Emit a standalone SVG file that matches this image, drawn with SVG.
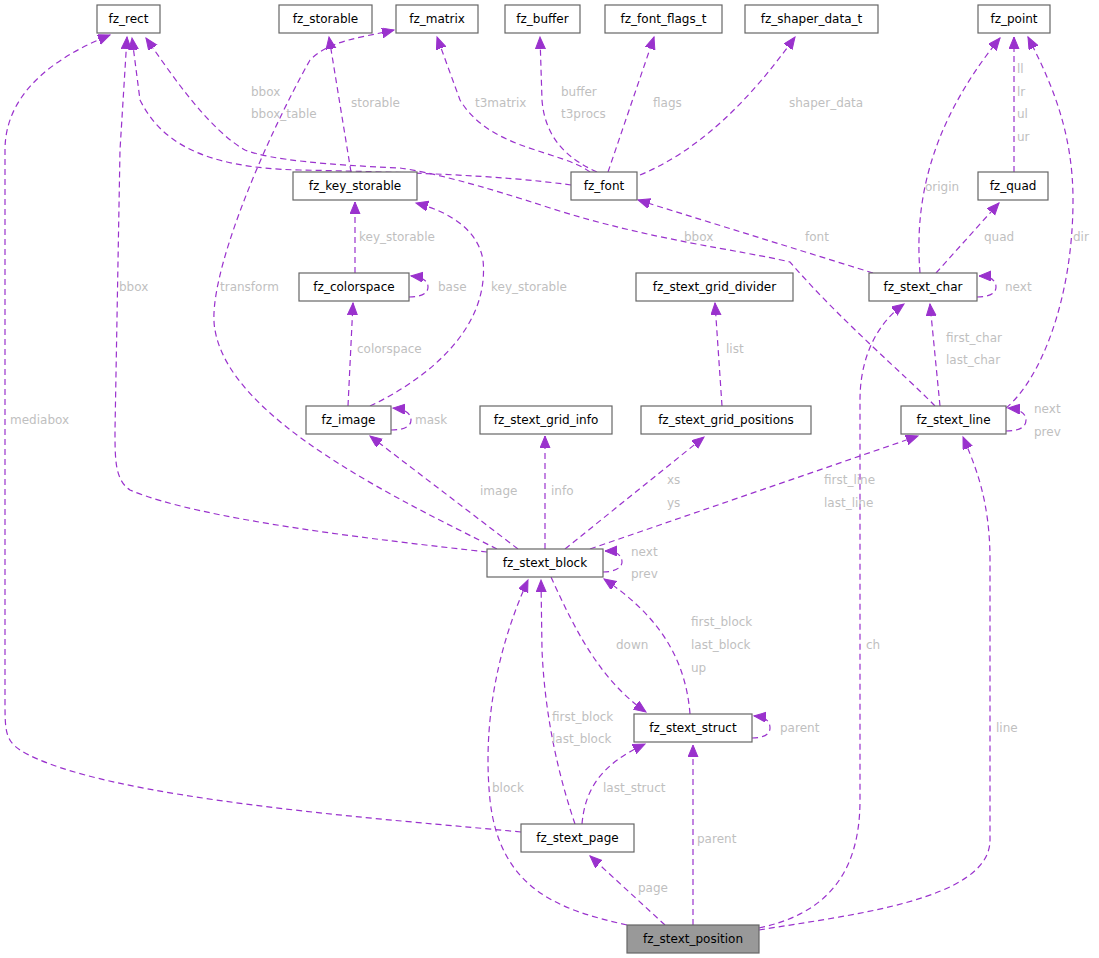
<svg xmlns="http://www.w3.org/2000/svg" width="1099" height="958" viewBox="0 0 1099 958">
<style>
.n rect{fill:#fff;stroke:#666;stroke-width:1.2}
.n text{font-family:"DejaVu Sans",sans-serif;font-size:12px;fill:#000;text-anchor:middle}
#e path{fill:none;stroke:#9a32cd;stroke-width:1.2;stroke-dasharray:6,4;marker-end:url(#a)}
.l{font-family:"DejaVu Sans",sans-serif;font-size:12px;fill:#bfbfbf}
</style>
<defs><marker id="a" markerUnits="userSpaceOnUse" markerWidth="14" markerHeight="12" refX="12" refY="5" orient="auto"><path d="M0,0 L12,5 L0,10 Z" fill="#9a32cd" stroke="#9a32cd"/></marker></defs>
<rect width="1099" height="958" fill="#fff"/>
<g id="e">
<path d="M627,925 C560,910 500,890 490,800 C480,700 510,620 528,580"/>
<path d="M665,925 L590,856"/>
<path d="M693,925 L693,745"/>
<path d="M759,928 C820,915 860,880 860,800 L860,400 C860,360 875,325 904,304"/>
<path d="M759,930 C850,915 990,900 990,840 L990,560 C990,500 975,465 963,437"/>
<path d="M575,824 C560,780 545,720 542,650 L541,580"/>
<path d="M582,824 C585,790 600,765 645,744"/>
<path d="M521,832 C400,820 100,800 20,750 C5,740 5,730 5,700 L5,150 C5,90 60,55 110,35"/>
<path d="M551,577 C575,630 600,680 646,712"/>
<path d="M690,714 C685,650 650,610 604,579"/>
<path d="M752,738 C762,738 770,735 770,728 C770,720 764,717 754,716"/>
<path d="M603,572 C614,572 622,568 622,562 C622,555 616,551 605,551"/>
<path d="M518,549 L370,436"/>
<path d="M545,549 L545,436"/>
<path d="M565,549 L704,437"/>
<path d="M590,549 L918,436"/>
<path d="M487,552 C380,540 200,520 130,490 C115,480 115,460 115,430 L120,150 L127,37"/>
<path d="M497,549 C400,500 230,420 215,330 C205,280 265,140 310,60 C330,40 360,38 394,30"/>
<path d="M370,406 C425,380 490,330 483,260 C478,230 450,212 416,203"/>
<path d="M348,406 L353,303"/>
<path d="M391,430 C403,430 411,427 411,420 C411,413 404,409 393,408"/>
<path d="M355,273 L355,202"/>
<path d="M409,297 C420,297 428,294 428,287 C428,280 421,277 411,276"/>
<path d="M351,172 L329,37"/>
<path d="M571,185 C500,175 400,172 300,170 C200,168 160,140 140,100 L132,38"/>
<path d="M935,406 C905,375 840,320 790,262 C740,250 650,240 550,208 C480,185 430,172 400,168 C330,165 270,160 245,150 C210,130 175,80 146,38"/>
<path d="M590,172 C560,150 490,150 460,100 L437,37"/>
<path d="M597,172 C570,160 545,140 542,100 L540,37"/>
<path d="M608,172 L654,37"/>
<path d="M640,175 C700,150 750,100 795,37"/>
<path d="M873,273 L638,200"/>
<path d="M920,273 C915,210 925,130 1000,38"/>
<path d="M936,273 L999,203"/>
<path d="M1014,172 L1014,37"/>
<path d="M977,297 C988,297 996,294 996,287 C996,280 990,276 979,276"/>
<path d="M940,406 L930,304"/>
<path d="M1006,408 C1040,380 1073,300 1073,200 C1073,130 1050,80 1028,37"/>
<path d="M1006,431 C1018,431 1026,428 1026,420 C1026,413 1019,409 1008,408"/>
<path d="M722,406 L715,303"/>
</g>
<g id="lbl">
<text class="l" x="492" y="792">block</text>
<text class="l" x="638" y="892">page</text>
<text class="l" x="697" y="843">parent</text>
<text class="l" x="866" y="649">ch</text>
<text class="l" x="996" y="732">line</text>
<text class="l" x="552" y="721">first_block</text>
<text class="l" x="552" y="743">last_block</text>
<text class="l" x="603" y="792">last_struct</text>
<text class="l" x="10" y="424">mediabox</text>
<text class="l" x="616" y="649">down</text>
<text class="l" x="691" y="626">first_block</text>
<text class="l" x="691" y="649">last_block</text>
<text class="l" x="691" y="672">up</text>
<text class="l" x="780" y="732">parent</text>
<text class="l" x="631" y="556">next</text>
<text class="l" x="631" y="578">prev</text>
<text class="l" x="480" y="495">image</text>
<text class="l" x="551" y="495">info</text>
<text class="l" x="667" y="484">xs</text>
<text class="l" x="667" y="507">ys</text>
<text class="l" x="824" y="484">first_line</text>
<text class="l" x="824" y="507">last_line</text>
<text class="l" x="119" y="291">bbox</text>
<text class="l" x="220" y="291">transform</text>
<text class="l" x="491" y="291">key_storable</text>
<text class="l" x="357" y="353">colorspace</text>
<text class="l" x="415" y="424">mask</text>
<text class="l" x="359" y="241">key_storable</text>
<text class="l" x="438" y="291">base</text>
<text class="l" x="351" y="107">storable</text>
<text class="l" x="251" y="96">bbox</text>
<text class="l" x="251" y="118">bbox_table</text>
<text class="l" x="684" y="241">bbox</text>
<text class="l" x="475" y="107">t3matrix</text>
<text class="l" x="561" y="96">buffer</text>
<text class="l" x="561" y="118">t3procs</text>
<text class="l" x="653" y="107">flags</text>
<text class="l" x="789" y="107">shaper_data</text>
<text class="l" x="805" y="241">font</text>
<text class="l" x="925" y="191">origin</text>
<text class="l" x="984" y="241">quad</text>
<text class="l" x="1017" y="73">ll</text>
<text class="l" x="1017" y="96">lr</text>
<text class="l" x="1017" y="118">ul</text>
<text class="l" x="1017" y="141">ur</text>
<text class="l" x="1005" y="291">next</text>
<text class="l" x="946" y="342">first_char</text>
<text class="l" x="946" y="364">last_char</text>
<text class="l" x="1073" y="241">dir</text>
<text class="l" x="1034" y="413">next</text>
<text class="l" x="1034" y="436">prev</text>
<text class="l" x="726" y="353">list</text>
</g>
<g id="fz_rect" class="n"><rect x="97" y="5" width="63" height="28"/><text x="128.5" y="23">fz_rect</text></g>
<g id="fz_storable" class="n"><rect x="279" y="5" width="93" height="28"/><text x="325.5" y="23">fz_storable</text></g>
<g id="fz_matrix" class="n"><rect x="396" y="5" width="82" height="28"/><text x="437" y="23">fz_matrix</text></g>
<g id="fz_buffer" class="n"><rect x="505" y="5" width="75" height="28"/><text x="542.5" y="23">fz_buffer</text></g>
<g id="fz_font_flags_t" class="n"><rect x="605" y="5" width="117" height="28"/><text x="663.5" y="23">fz_font_flags_t</text></g>
<g id="fz_shaper_data_t" class="n"><rect x="745" y="5" width="133" height="28"/><text x="811.5" y="23">fz_shaper_data_t</text></g>
<g id="fz_point" class="n"><rect x="978" y="5" width="72" height="28"/><text x="1014" y="23">fz_point</text></g>
<g id="fz_key_storable" class="n"><rect x="293" y="172" width="124" height="28"/><text x="355" y="190">fz_key_storable</text></g>
<g id="fz_font" class="n"><rect x="571" y="172" width="66" height="28"/><text x="604" y="190">fz_font</text></g>
<g id="fz_quad" class="n"><rect x="978" y="172" width="70" height="28"/><text x="1013" y="190">fz_quad</text></g>
<g id="fz_colorspace" class="n"><rect x="299" y="273" width="110" height="28"/><text x="354" y="291">fz_colorspace</text></g>
<g id="fz_stext_grid_divider" class="n"><rect x="636" y="273" width="157" height="28"/><text x="714.5" y="291">fz_stext_grid_divider</text></g>
<g id="fz_stext_char" class="n"><rect x="869" y="273" width="108" height="28"/><text x="923" y="291">fz_stext_char</text></g>
<g id="fz_image" class="n"><rect x="306" y="406" width="85" height="28"/><text x="348.5" y="424">fz_image</text></g>
<g id="fz_stext_grid_info" class="n"><rect x="480" y="406" width="132" height="28"/><text x="546" y="424">fz_stext_grid_info</text></g>
<g id="fz_stext_grid_positions" class="n"><rect x="641" y="406" width="170" height="28"/><text x="726" y="424">fz_stext_grid_positions</text></g>
<g id="fz_stext_line" class="n"><rect x="901" y="406" width="105" height="28"/><text x="953.5" y="424">fz_stext_line</text></g>
<g id="fz_stext_block" class="n"><rect x="487" y="549" width="116" height="28"/><text x="545" y="567">fz_stext_block</text></g>
<g id="fz_stext_struct" class="n"><rect x="634" y="714" width="118" height="28"/><text x="693" y="732">fz_stext_struct</text></g>
<g id="fz_stext_page" class="n"><rect x="521" y="824" width="113" height="28"/><text x="577.5" y="842">fz_stext_page</text></g>
<g id="fz_stext_position" class="n"><rect x="627" y="925" width="132" height="28" style="fill:#999"/><text x="693" y="943">fz_stext_position</text></g>
</svg>
